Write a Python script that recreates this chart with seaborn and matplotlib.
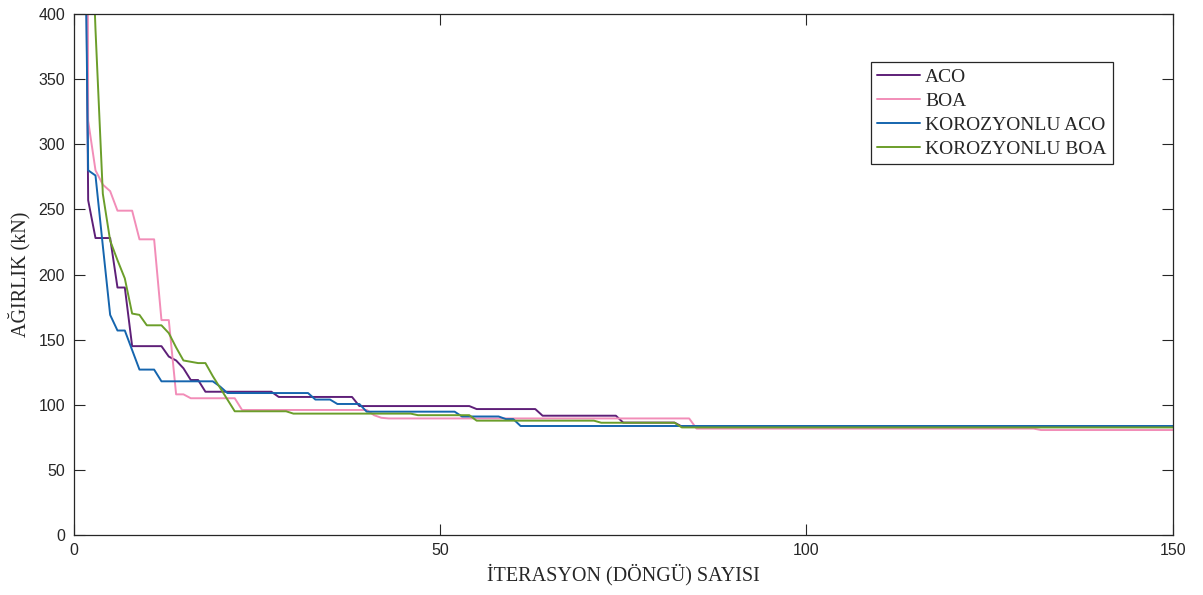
import matplotlib
matplotlib.use("Agg")
import matplotlib.pyplot as plt
import pandas as pd
import seaborn as sns

# Iteration index (1..150)
iterations = list(range(1, 151))

# Best structural weight found so far at each iteration (kN)
aco = [
    950, 257, 228, 228, 228, 190, 190, 145, 145, 145,
    145, 145, 137, 134, 128, 119, 119, 110, 110, 110,
    110, 110, 110, 110, 110, 110, 110, 106, 106, 106,
    106, 106, 106, 106, 106, 106, 106, 106, 99, 99,
    99, 99, 99, 99, 99, 99, 99, 99, 99, 99,
    99, 99, 99, 99, 96.7, 96.7, 96.7, 96.7, 96.7, 96.7,
    96.7, 96.7, 96.7, 91.6, 91.6, 91.6, 91.6, 91.6, 91.6, 91.6,
    91.6, 91.6, 91.6, 91.6, 86.3, 86.3, 86.3, 86.3, 86.3, 86.3,
    86.3, 86.3, 83.3, 83.3, 83.3, 83.3, 83.3, 83.3, 83.3, 83.3,
    83.3, 83.3, 83.3, 83.3, 83.3, 83.3, 83.3, 83.3, 83.3, 83.3,
    83.3, 83.3, 83.3, 83.3, 83.3, 83.3, 83.3, 83.3, 83.3, 83.3,
    83.3, 83.3, 83.3, 83.3, 83.3, 83.3, 83.3, 83.3, 83.3, 83.3,
    83.3, 83.3, 83.3, 83.3, 83.3, 83.3, 83.3, 83.3, 83.3, 83.3,
    83.3, 83.3, 83.3, 83.3, 83.3, 83.3, 83.3, 83.3, 83.3, 83.3,
    83.3, 83.3, 83.3, 83.3, 83.3, 83.3, 83.3, 83.3, 83.3, 83.3,
]

boa = [
    2500, 318, 280, 269, 264, 249, 249, 249, 227, 227,
    227, 165, 165, 108, 108, 105, 105, 105, 105, 105,
    105, 105, 96, 96, 96, 96, 96, 96, 96, 96,
    96, 96, 96, 96, 96, 96, 96, 96, 96, 96,
    92, 90, 89.5, 89.5, 89.5, 89.5, 89.5, 89.5, 89.5, 89.5,
    89.5, 89.5, 89.5, 89.5, 89.5, 89.5, 89.5, 89.5, 89.5, 89.5,
    89.5, 89.5, 89.5, 89.5, 89.5, 89.5, 89.5, 89.5, 89.5, 89.5,
    89.5, 89.5, 89.5, 89.5, 89.5, 89.5, 89.5, 89.5, 89.5, 89.5,
    89.5, 89.5, 89.5, 89.5, 81.7, 81.7, 81.7, 81.7, 81.7, 81.7,
    81.7, 81.7, 81.7, 81.7, 81.7, 81.7, 81.7, 81.7, 81.7, 81.7,
    81.7, 81.7, 81.7, 81.7, 81.7, 81.7, 81.7, 81.7, 81.7, 81.7,
    81.7, 81.7, 81.7, 81.7, 81.7, 81.7, 81.7, 81.7, 81.7, 81.7,
    81.7, 81.7, 81.7, 81.7, 81.7, 81.7, 81.7, 81.7, 81.7, 81.7,
    81.7, 80.6, 80.6, 80.6, 80.6, 80.6, 80.6, 80.6, 80.6, 80.6,
    80.6, 80.6, 80.6, 80.6, 80.6, 80.6, 80.6, 80.6, 80.6, 80.6,
]

k_aco = [
    760, 280, 276, 222, 169, 157, 157, 142, 127, 127,
    127, 118, 118, 118, 118, 118, 118, 118, 118, 114,
    109, 109, 109, 109, 109, 109, 109, 109, 109, 109,
    109, 109, 104, 104, 104, 100.6, 100.6, 100.6, 100.6, 94.7,
    94.7, 94.7, 94.7, 94.7, 94.7, 94.7, 94.7, 94.7, 94.7, 94.7,
    94.7, 94.7, 91, 91, 91, 91, 91, 91, 89, 89,
    83.7, 83.7, 83.7, 83.7, 83.7, 83.7, 83.7, 83.7, 83.7, 83.7,
    83.7, 83.7, 83.7, 83.7, 83.7, 83.7, 83.7, 83.7, 83.7, 83.7,
    83.7, 83.7, 83.7, 83.7, 83.7, 83.7, 83.7, 83.7, 83.7, 83.7,
    83.7, 83.7, 83.7, 83.7, 83.7, 83.7, 83.7, 83.7, 83.7, 83.7,
    83.7, 83.7, 83.7, 83.7, 83.7, 83.7, 83.7, 83.7, 83.7, 83.7,
    83.7, 83.7, 83.7, 83.7, 83.7, 83.7, 83.7, 83.7, 83.7, 83.7,
    83.7, 83.7, 83.7, 83.7, 83.7, 83.7, 83.7, 83.7, 83.7, 83.7,
    83.7, 83.7, 83.7, 83.7, 83.7, 83.7, 83.7, 83.7, 83.7, 83.7,
    83.7, 83.7, 83.7, 83.7, 83.7, 83.7, 83.7, 83.7, 83.7, 83.7,
]

k_boa = [
    1200, 540, 388, 262, 226, 211, 197, 170, 169, 161,
    161, 161, 155, 144, 134, 133, 132, 132, 122, 113,
    104, 95, 95, 95, 95, 95, 95, 95, 95, 93.2,
    93.2, 93.2, 93.2, 93.2, 93.2, 93.2, 93.2, 93.2, 93.2, 93.2,
    93.2, 93.2, 93.2, 93.2, 93.2, 93.2, 92, 92, 92, 92,
    92, 92, 92, 92, 87.8, 87.8, 87.8, 87.8, 87.8, 87.8,
    87.8, 87.8, 87.8, 87.8, 87.8, 87.8, 87.8, 87.8, 87.8, 87.8,
    87.8, 86.2, 86.2, 86.2, 86.2, 86.2, 86.2, 86.2, 86.2, 86.2,
    86.2, 86.2, 82.6, 82.6, 82.6, 82.6, 82.6, 82.6, 82.6, 82.6,
    82.6, 82.6, 82.6, 82.6, 82.6, 82.6, 82.6, 82.6, 82.6, 82.6,
    82.6, 82.6, 82.6, 82.6, 82.6, 82.6, 82.6, 82.6, 82.6, 82.6,
    82.6, 82.6, 82.6, 82.6, 82.6, 82.6, 82.6, 82.6, 82.6, 82.6,
    82.6, 82.6, 82.6, 82.6, 82.6, 82.6, 82.6, 82.6, 82.6, 82.6,
    82.6, 82.6, 82.6, 82.6, 82.6, 82.6, 82.6, 82.6, 82.6, 82.6,
    82.6, 82.6, 82.6, 82.6, 82.6, 82.6, 82.6, 82.6, 82.6, 82.6,
]

series_names = ["ACO", "BOA", "KOROZYONLU ACO", "KOROZYONLU BOA"]
series_colors = ["#5E1F78", "#F28DB8", "#1565AE", "#6B9E2A"]

x_ticks = [0, 50, 100, 150]
y_ticks = [0, 50, 100, 150, 200, 250, 300, 350, 400]
x_label = "İTERASYON (DÖNGÜ) SAYISI"
y_label = "AĞIRLIK (kN)"

wide = pd.DataFrame({
    "iterasyon": iterations,
    "ACO": aco,
    "BOA": boa,
    "KOROZYONLU ACO": k_aco,
    "KOROZYONLU BOA": k_boa,
})
long = wide.melt(id_vars="iterasyon", var_name="algoritma", value_name="agirlik")

sns.set_style("white")
plt.rcParams["font.family"] = ["Liberation Sans", "DejaVu Sans"]

fig = plt.figure(figsize=(12.03, 5.95), dpi=100)
ax = fig.add_axes([0.0611, 0.1008, 0.9139, 0.8757])

sns.lineplot(
    data=long, x="iterasyon", y="agirlik", hue="algoritma",
    hue_order=series_names, palette=series_colors,
    linewidth=1.4, estimator=None, sort=False, ax=ax,
)

ax.set_xlim(0, 150)
ax.set_ylim(0, 400)
ax.set_xticks(x_ticks)
ax.set_yticks(y_ticks)

for side in ["left", "right", "top", "bottom"]:
    ax.spines[side].set_visible(True)
    ax.spines[side].set_color("#262626")
    ax.spines[side].set_linewidth(0.9)

ax.tick_params(
    axis="both", which="major", direction="in", length=8, width=0.8,
    color="#262626", labelsize=11.5, labelcolor="#262626", pad=6,
    top=True, right=True, bottom=True, left=True,
)

serif = ["Liberation Serif", "DejaVu Serif"]
ax.set_xlabel(x_label, family=serif, fontsize=14.5, color="#262626", labelpad=4)
ax.set_ylabel(y_label, family=serif, fontsize=14.5, color="#262626", labelpad=6)

handles, labels = ax.get_legend_handles_labels()
leg = ax.legend(
    handles, labels, loc="upper left",
    bbox_to_anchor=(871 / 1203, 1 - 62 / 595), bbox_transform=fig.transFigure,
    borderaxespad=0, frameon=True, fancybox=False, framealpha=1,
    edgecolor="#262626", prop={"family": serif, "size": 14},
    handlelength=2.2, handletextpad=0.25, labelspacing=0.32, borderpad=0.33,
)
leg.get_frame().set_linewidth(0.9)

fig.savefig("out.png", dpi=100)
